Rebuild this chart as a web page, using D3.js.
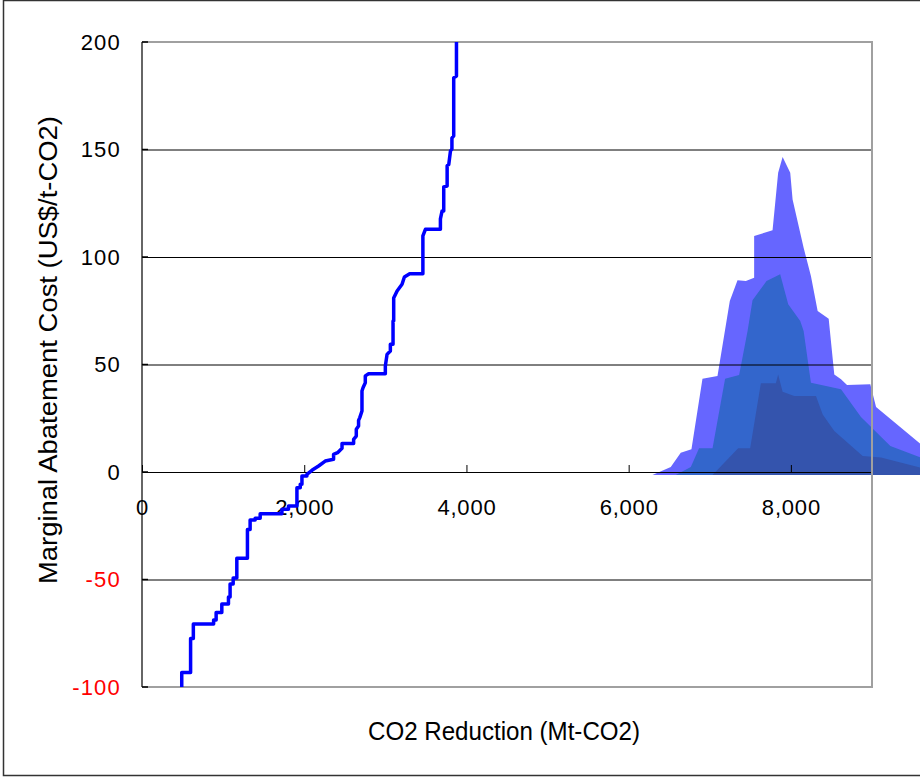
<!DOCTYPE html>
<html>
<head>
<meta charset="utf-8">
<script src="https://cdn.jsdelivr.net/npm/d3@7"></script>
<style>
  html, body { margin: 0; padding: 0; background: #fff; }
  svg { display: block; font-family: Arial, "Liberation Sans", sans-serif; }
</style>
</head>
<body>
<svg id="chart" width="920" height="777"></svg>
<script>
// ---- Data ----
// Marginal abatement cost curve vertices (cumulative Mt-CO2, US$/t-CO2)
const curveX = [490, 490, 599, 599, 633, 633, 883, 883, 914, 914, 984, 984, 1066, 1066, 1086, 1086, 1124, 1124, 1169, 1169,
  1300, 1300, 1333, 1333, 1395, 1395, 1457, 1457, 1725, 1725, 1806, 1806, 1910, 1910, 1951, 1951, 1972, 1972, 2033, 2033,
  2095, 2177, 2259, 2362, 2362, 2411, 2466, 2466, 2609, 2609, 2642, 2642, 2670, 2670, 2685, 2712, 2712, 2725, 2753, 2753,
  2794, 3000, 3000, 3021, 3062, 3062, 3095, 3095, 3103, 3103, 3145, 3206, 3235, 3300, 3463, 3463, 3494, 3679, 3679, 3700,
  3720, 3720, 3762, 3762, 3782, 3803, 3821, 3821, 3843, 3843, 3877, 3877];
const curveY = [-100, -93.3, -93.3, -77.4, -77.4, -70.7, -70.7, -68.8, -68.8, -65.4, -65.4, -61.4, -61.4, -58.1, -58.1, -52.1, -52.1, -49.3, -49.3, -40.1,
  -40.1, -26.7, -26.7, -22.3, -22.3, -21.5, -21.5, -19.4, -19.4, -17.3, -17.3, -15.8, -15.8, -7.3, -7.3, -5.7, -5.7, -1.9, -1.9, -1.1,
  0.8, 2.8, 5.1, 5.9, 8.2, 9.0, 11.0, 13.2, 13.2, 15.2, 16.7, 19.9, 21.4, 24.0, 25.3, 28.4, 37.7, 39.2, 41.5, 44.7,
  45.7, 45.7, 49.3, 54.7, 56.3, 59.4, 59.4, 70.2, 70.2, 80.9, 84.2, 87.3, 90.7, 92.2, 92.2, 109.8, 112.9, 112.9, 117.7, 121.4,
  121.4, 132.6, 133.0, 142.5, 143.0, 149.3, 150.2, 155.3, 156.3, 183.3, 184.2, 200];

// Distribution bands (light / medium / dark)
const lightX = [6293, 6519, 6642, 6774, 6910, 7095, 7247, 7342, 7445, 7547, 7547, 7774, 7843, 7898, 7992, 8021, 8157, 8247, 8330, 8466, 8535, 8618, 8692, 8979, 9050, 9605, 10062];
const lightY = [-1.4, 2.3, 9.0, 10.6, 43.4, 44.7, 79.5, 89.2, 88.8, 90.4, 109.8, 112.4, 139.2, 146.5, 139.2, 126.8, 104.3, 91.2, 74.9, 71.3, 45.4, 43.1, 40.5, 40.8, 30.2, 12.9, -1.4];
const midX = [6580, 6766, 6868, 7034, 7189, 7362, 7466, 7527, 7700, 7868, 7967, 8115, 8157, 8247, 8618, 8864, 9226, 9605, 10161];
const midY = [-1.4, 2.3, 11.0, 11.0, 43.4, 45.1, 65.6, 79.9, 88.8, 92.0, 78.0, 70.2, 65.6, 41.5, 38.5, 25.6, 12.1, 6.7, -1.4];
const darkX = [7034, 7350, 7498, 7630, 7815, 7843, 7898, 8041, 8309, 8392, 8535, 8885, 9111, 9605, 9914];
const darkY = [-1.4, 11.0, 11.0, 41.3, 41.3, 45.4, 37.3, 35.3, 35.3, 26.8, 19.1, 7.4, 6.7, 2.0, -1.4];

const yTicks = [200, 150, 100, 50, 0, -50, -100];
const xTicks = [0, 2000, 4000, 6000, 8000];
const xTickLabels = ["0", "2,000", "4,000", "6,000", "8,000"];
const xTitle = "CO2 Reduction (Mt-CO2)";
const yTitle = "Marginal Abatement Cost (US$/t-CO2)";

// ---- Drawing ----
const svg = d3.select("#chart");
const L = 142, R = 872, T = 42, B = 687;
const x = d3.scaleLinear().domain([0, 9000]).range([L, R]);
const y = d3.scaleLinear().domain([-100, 200]).range([B, T]);

svg.append("rect").attr("width", 920).attr("height", 777).attr("fill", "#fff");

// outer frame
svg.append("rect").attr("x", 3.5).attr("y", 0.5).attr("width", 940).attr("height", 775)
  .attr("fill", "none").attr("stroke", "#333").attr("stroke-width", 1.5);

// areas
const bands = [
  { xs: lightX, ys: lightY, color: "#6666ff" },
  { xs: midX, ys: midY, color: "#3366cc" },
  { xs: darkX, ys: darkY, color: "#3454ad" }
];
const areaGen = d3.area().x(d => x(d[0])).y0(y(-1.4)).y1(d => y(d[1]));
bands.forEach(b => {
  svg.append("path")
    .datum(b.xs.map((v, i) => [v, b.ys[i]]))
    .attr("d", areaGen)
    .attr("fill", b.color);
});

// gridlines + y labels
const yAxis = d3.axisLeft(y).tickValues(yTicks).tickSize(-(R - L)).tickPadding(21).tickFormat(d => String(d));
const gy = svg.append("g").attr("transform", `translate(${L},0)`).call(yAxis);
gy.select(".domain").remove();
gy.selectAll(".tick line").attr("stroke", "#000").attr("stroke-width", 1)
  .filter(d => d === 200 || d === -100).remove();
gy.selectAll(".tick text")
  .attr("font-size", 22).attr("font-family", "Arial, 'Liberation Sans', sans-serif")
  .attr("letter-spacing", 1.2)
  .attr("fill", d => d < 0 ? "#ff0000" : "#000");

// plot frame (top/right/bottom gray)
svg.append("path")
  .attr("d", `M${L},${T}H${R}V${B}H${L}`)
  .attr("fill", "none").attr("stroke", "#a0a0a0").attr("stroke-width", 2);
// left axis
svg.append("line").attr("x1", L).attr("x2", L).attr("y1", T).attr("y2", B)
  .attr("stroke", "#333").attr("stroke-width", 1.5);
// small left ticks
yTicks.forEach(t => {
  svg.append("line").attr("x1", L).attr("x2", L + 6).attr("y1", y(t)).attr("y2", y(t))
    .attr("stroke", "#000").attr("stroke-width", 1.5);
});

// x axis at y=0
const xAxis = d3.axisBottom(x).tickValues(xTicks).tickSize(-7).tickPadding(27)
  .tickFormat((d, i) => xTickLabels[i]);
const gx = svg.append("g").attr("transform", `translate(0,${y(0)})`).call(xAxis);
gx.select(".domain").remove();
gx.selectAll(".tick line").attr("stroke", "#000");
gx.selectAll(".tick text").attr("font-size", 22).attr("fill", "#000")
  .attr("letter-spacing", 0.8)
  .attr("font-family", "Arial, 'Liberation Sans', sans-serif");

// cost curve
const lineGen = d3.line().x(d => x(d[0])).y(d => y(d[1]));
svg.append("path")
  .datum(curveX.map((v, i) => [v, curveY[i]]))
  .attr("d", lineGen)
  .attr("fill", "none").attr("stroke", "#0000ff").attr("stroke-width", 3.5)
  .attr("stroke-linejoin", "round");

// titles
svg.append("text").attr("x", (L + R) / 2 - 3).attr("y", 740).attr("text-anchor", "middle")
  .attr("font-size", 26).attr("fill", "#000")
  .attr("textLength", 272).attr("lengthAdjust", "spacingAndGlyphs").text(xTitle);
svg.append("text").attr("transform", `translate(57,350) rotate(-90)`)
  .attr("text-anchor", "middle").attr("font-size", 26).attr("fill", "#000")
  .attr("textLength", 468).attr("lengthAdjust", "spacingAndGlyphs").text(yTitle);
</script>
</body>
</html>
